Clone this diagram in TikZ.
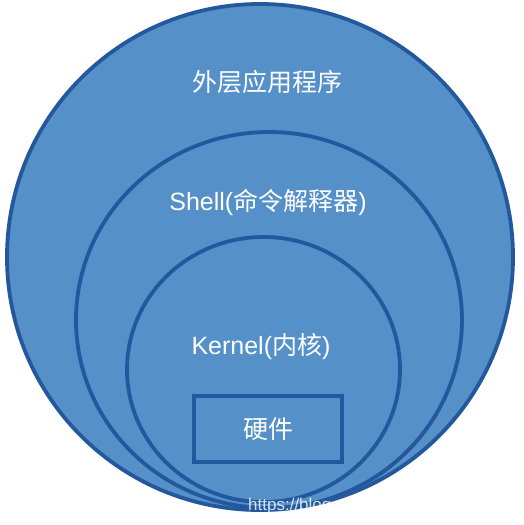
\documentclass[tikz,border=0pt]{standalone}
\usepackage{fontspec}
\setmainfont{Liberation Sans}
\newfontfamily\cjk{Noto Sans CJK SC}
\usetikzlibrary{shapes.geometric,shadows}
\definecolor{layerfill}{HTML}{5591C8}
\definecolor{layerline}{HTML}{23579E}
\tikzset{
  layer/.style={ellipse, draw=layerline, fill=layerfill, line width=3.8pt, inner sep=0pt,
    drop shadow={opacity=0.35, shadow xshift=1pt, shadow yshift=-2pt}},
  hwbox/.style={rectangle, draw=layerline, fill=layerfill, line width=3.8pt, inner sep=0pt,
    drop shadow={opacity=0.35, shadow xshift=1pt, shadow yshift=-2pt}},
  lbl/.style={text=white, font=\fontsize{25}{30}\selectfont, inner sep=0pt}
}
\begin{document}
\begin{tikzpicture}[x=1pt,y=-1pt]
\useasboundingbox (0,0) rectangle (524,525);
\fill[white] (0,0) rectangle (524,525);
\node[layer, minimum width=506pt, minimum height=506pt] (outer) at (260,257) {};
\node[layer, minimum width=386pt, minimum height=376pt] (shell) at (269,320) {};
\node[layer, minimum width=273pt, minimum height=265pt] (kernel) at (263.5,369.5) {};
\node[hwbox, minimum width=148pt, minimum height=66pt] (hw) at (268,429) {};
\node[lbl] (tapp) at (267,82) {\cjk 外层应用程序};
\node[lbl] (tshell) at (268,202) {Shell({\cjk 命令解释器})};
\node[lbl] (tkernel) at (261,347) {Kernel({\cjk 内核})};
\node[lbl] (thw) at (268,429) {\cjk 硬件};
\node[text=white, opacity=0.8, font=\fontsize{17}{20}\selectfont, anchor=west, inner sep=0pt] (wm) at (248,506) {https://blog.csd};
\end{tikzpicture}
\end{document}
